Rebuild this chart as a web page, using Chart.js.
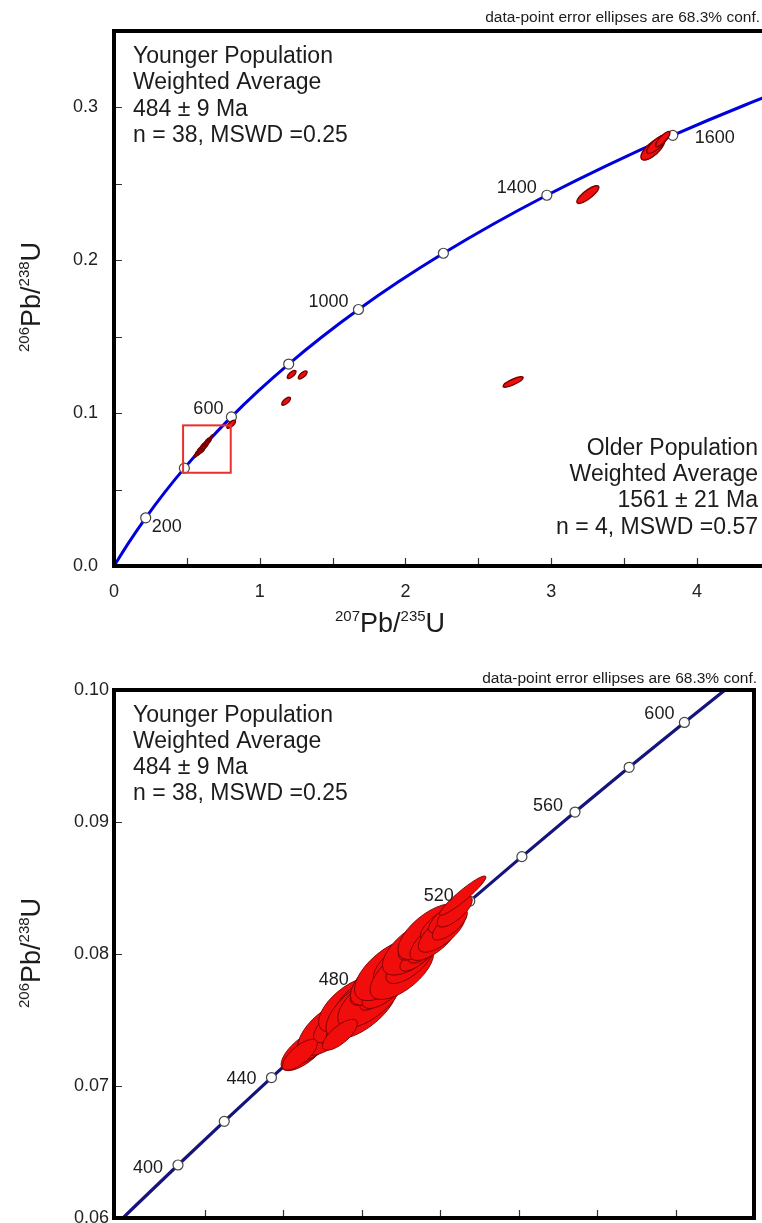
<!DOCTYPE html>
<html>
<head>
<meta charset="utf-8">
<script src="https://cdn.jsdelivr.net/npm/chart.js@4/dist/chart.umd.min.js"></script>
<style>
html, body { margin:0; padding:0; background:#fff; overflow:hidden; width:762px; height:1223px; }
#top { position:absolute; left:0; top:0; }
#bottom { position:absolute; left:0; top:650px; }
</style>
</head>
<body>
<canvas id="top" width="776" height="650"></canvas>
<canvas id="bottom" width="762" height="650"></canvas>
<script>
// concordia curve (age in Ma, 207Pb/235U, 206Pb/238U)
const concAge = [0, 100, 200, 300, 400, 500, 600, 700, 800, 900, 1000, 1100, 1200, 1300, 1400, 1500, 1600, 1700, 1800];
const concX = [0, 0.1035, 0.2177, 0.3437, 0.4828, 0.6363, 0.8056, 0.9925, 1.1987, 1.4263, 1.6774, 1.9545, 2.2603, 2.5977, 2.9701, 3.3810, 3.8344, 4.3348, 4.8869];
const concY = [0, 0.01563, 0.03151, 0.04764, 0.06402, 0.08065, 0.09754, 0.11470, 0.13213, 0.14983, 0.16780, 0.18606, 0.20460, 0.22344, 0.24256, 0.26199, 0.28172, 0.30175, 0.32210];
const topMarkAge = [200, 400, 600, 800, 1000, 1200, 1400, 1600];
const topLabelAge = [200, 600, 1000, 1400, 1600];

// zoomed concordia (lower plot)
const zoomAge = [360, 380, 400, 420, 440, 460, 480, 500, 520, 540, 560, 580, 600, 620, 640];
const zoomX = [0.42553, 0.45389, 0.48281, 0.51230, 0.54239, 0.57307, 0.60436, 0.63628, 0.66883, 0.70203, 0.73588, 0.77041, 0.80563, 0.84155, 0.87818];
const zoomY = [0.057434, 0.060720, 0.064016, 0.067322, 0.070638, 0.073965, 0.077302, 0.080650, 0.084008, 0.087376, 0.090755, 0.094144, 0.097544, 0.100954, 0.104376];
const zoomMarkAge = [400, 420, 440, 460, 480, 500, 520, 540, 560, 580, 600];
const zoomLabelAge = [400, 440, 480, 520, 560, 600];

// younger population: centre, 1s errors, error correlation
const youngX = [0.5637, 0.5682, 0.5720, 0.5764, 0.5796, 0.5847, 0.5873, 0.5892, 0.5924, 0.5955, 0.5975, 0.6000, 0.6025, 0.6051, 0.6076, 0.6102, 0.6127, 0.6153, 0.6178, 0.6204, 0.6229, 0.6255, 0.6280, 0.6306, 0.6331, 0.6357, 0.6382, 0.6408, 0.6433, 0.6459, 0.6484, 0.6510, 0.6535, 0.6561, 0.6592, 0.5860, 0.5605, 0.6643];
const youngY = [0.07274, 0.07289, 0.07350, 0.07388, 0.07441, 0.07487, 0.07563, 0.07464, 0.07616, 0.07540, 0.07669, 0.07593, 0.07715, 0.07654, 0.07768, 0.07692, 0.07821, 0.07745, 0.07881, 0.07821, 0.07942, 0.07866, 0.07995, 0.07934, 0.08048, 0.07988, 0.08109, 0.08048, 0.08169, 0.08109, 0.08223, 0.08169, 0.08275, 0.08223, 0.08321, 0.07388, 0.07237, 0.08442];
const youngSX = [0.0152, 0.0112, 0.0150, 0.0115, 0.0203, 0.0155, 0.0110, 0.0118, 0.0200, 0.0152, 0.0148, 0.0229, 0.0112, 0.0205, 0.0150, 0.0114, 0.0200, 0.0152, 0.0225, 0.0112, 0.0155, 0.0203, 0.0110, 0.0152, 0.0200, 0.0114, 0.0150, 0.0112, 0.0203, 0.0152, 0.0112, 0.0150, 0.0110, 0.0112, 0.0112, 0.0112, 0.0112, 0.0148];
const youngSY = [0.00158, 0.00117, 0.00155, 0.00120, 0.00211, 0.00160, 0.00115, 0.00122, 0.00208, 0.00158, 0.00154, 0.00238, 0.00117, 0.00212, 0.00156, 0.00118, 0.00210, 0.00158, 0.00235, 0.00117, 0.00160, 0.00211, 0.00115, 0.00158, 0.00208, 0.00118, 0.00156, 0.00117, 0.00211, 0.00158, 0.00117, 0.00156, 0.00115, 0.00117, 0.00117, 0.00117, 0.00117, 0.00149];
const youngRho = [0.70, 0.72, 0.69, 0.73, 0.64, 0.70, 0.72, 0.71, 0.63, 0.70, 0.71, 0.64, 0.72, 0.65, 0.69, 0.73, 0.64, 0.70, 0.63, 0.72, 0.70, 0.65, 0.72, 0.69, 0.64, 0.73, 0.70, 0.72, 0.65, 0.70, 0.72, 0.71, 0.73, 0.72, 0.74, 0.72, 0.72, 0.94];

// older population and discordant analyses
const oldX = [3.677, 3.697, 3.725, 3.766, 3.2515, 2.739, 1.219, 1.295, 1.181, 0.804];
const oldY = [0.2708, 0.2728, 0.2760, 0.2793, 0.2430, 0.1204, 0.1253, 0.1250, 0.1078, 0.0928];
const oldSX = [0.0569, 0.0813, 0.0694, 0.0491, 0.0754, 0.0688, 0.0298, 0.0298, 0.0298, 0.0298];
const oldSY = [0.00490, 0.00719, 0.00610, 0.00497, 0.00582, 0.00344, 0.00264, 0.00264, 0.00264, 0.00264];
const oldRho = [0.60, 0.72, 0.78, 0.83, 0.815, 0.826, 0.72, 0.72, 0.72, 0.72];

// axes
const topXTicks = [0, 0.5, 1, 1.5, 2, 2.5, 3, 3.5, 4, 4.5];
const topYTicks = [0, 0.05, 0.1, 0.15, 0.2, 0.25, 0.3];
const zoomXTicks = [0.50, 0.55, 0.60, 0.65, 0.70, 0.75, 0.80];
const zoomYTicks = [0.06, 0.07, 0.08, 0.09, 0.10];
const zoomBoxX = [0.474, 0.801];
const zoomBoxY = [0.061, 0.092];

const FONT = "'Liberation Sans', Arial, sans-serif";
const TXT = '#1c1c1c';

function pts(xs, ys) { return xs.map((v, i) => ({x: v, y: ys[i]})); }
function pick(ages, allAge, xs, ys) {
  return ages.map(a => { const i = allAge.indexOf(a); return {x: xs[i], y: ys[i], age: a}; });
}

function drawEllipse(ctx, sx_, sy_, cx, cy, ex, ey, r, lw) {
  const px = sx_.getPixelForValue(cx), py = sy_.getPixelForValue(cy);
  const kx = sx_.getPixelForValue(cx + ex) - px;
  const ky = sy_.getPixelForValue(cy + ey) - py;
  ctx.beginPath();
  ctx.save();
  ctx.transform(kx, ky * r, 0, ky * Math.sqrt(1 - r * r), px, py);
  ctx.arc(0, 0, 1, 0, Math.PI * 2);
  ctx.restore();
  ctx.fillStyle = '#f20d0d';
  ctx.fill();
  ctx.lineWidth = lw;
  ctx.strokeStyle = '#780000';
  ctx.stroke();
}

function drawRatio(ctx, x, y, angle, parts) {
  ctx.save();
  ctx.translate(x, y);
  ctx.rotate(angle);
  ctx.fillStyle = TXT;
  ctx.textAlign = 'left';
  ctx.textBaseline = 'alphabetic';
  let cx = 0;
  parts.forEach(([t, sup]) => {
    ctx.font = (sup ? '15px ' : '27px ') + FONT;
    ctx.fillText(t, cx, sup ? -11 : 0);
    cx += ctx.measureText(t).width;
  });
  ctx.restore();
}

function makePlugin(cfg) {
  return {
    id: 'concordia',
    afterDatasetsDraw(chart) {
      const {ctx, chartArea: a, scales: {x, y}} = chart;
      ctx.save();
      ctx.beginPath();
      ctx.rect(a.left, a.top, a.right - a.left, a.bottom - a.top);
      ctx.clip();
      cfg.ellipses.forEach(s => {
        for (let i = 0; i < s.x.length; i++) drawEllipse(ctx, x, y, s.x[i], s.y[i], s.sx[i], s.sy[i], s.rho[i], cfg.ellipseLine);
      });
      if (cfg.box) {
        const x0 = x.getPixelForValue(cfg.box.x[0]), x1 = x.getPixelForValue(cfg.box.x[1]);
        const y0 = y.getPixelForValue(cfg.box.y[0]), y1 = y.getPixelForValue(cfg.box.y[1]);
        ctx.strokeStyle = '#e8302c';
        ctx.lineWidth = 2;
        ctx.strokeRect(x0, y1, x1 - x0, y0 - y1);
      }
      ctx.restore();

      // age labels beside the markers
      ctx.save();
      ctx.font = '18px ' + FONT;
      ctx.fillStyle = TXT;
      ctx.textBaseline = 'alphabetic';
      cfg.labels.forEach(l => {
        const off = cfg.labelOffsets[l.age];
        ctx.textAlign = off[2];
        ctx.fillText(String(l.age), x.getPixelForValue(l.x) + off[0], y.getPixelForValue(l.y) + off[1]);
      });
      ctx.restore();
    },
    afterDraw(chart) {
      const {ctx, chartArea: a, scales: {x, y}} = chart;
      ctx.save();
      // inward ticks
      ctx.strokeStyle = '#333';
      ctx.lineWidth = 1.2;
      ctx.beginPath();
      x.ticks.forEach(t => {
        const p = Math.round(x.getPixelForValue(t.value)) + 0.5;
        ctx.moveTo(p, a.bottom);
        ctx.lineTo(p, a.bottom - 8);
      });
      y.ticks.forEach(t => {
        const p = Math.round(y.getPixelForValue(t.value)) + 0.5;
        ctx.moveTo(a.left, p);
        ctx.lineTo(a.left + 8, p);
      });
      ctx.stroke();
      // frame
      ctx.strokeStyle = '#000';
      ctx.lineWidth = 4;
      ctx.strokeRect(a.left, a.top, a.right - a.left, a.bottom - a.top);

      // text blocks
      ctx.fillStyle = TXT;
      ctx.textBaseline = 'alphabetic';
      cfg.texts.forEach(b => {
        ctx.font = b.size + 'px ' + FONT;
        ctx.textAlign = b.align;
        b.lines.forEach((s, i) => ctx.fillText(s, b.x, b.y + i * b.lh));
      });
      cfg.titles.forEach(t => drawRatio(ctx, t.x, t.y, t.angle, t.parts));
      ctx.restore();
    }
  };
}

function tickFont() { return {family: FONT, size: 18}; }
function noPadX(s, h) { s.height = h; s.paddingLeft = 0; s.paddingRight = 0; }
function noPadY(s, w) { s.width = w; s.paddingTop = 0; s.paddingBottom = 0; }

// ---------- upper plot ----------
const topMarks = pick(topMarkAge, concAge, concX, concY);
new Chart(document.getElementById('top'), {
  type: 'scatter',
  data: {
    datasets: [
      {data: topMarks, pointRadius: 5, pointBackgroundColor: '#fff', pointBorderColor: '#444', pointBorderWidth: 1.2},
      {data: pts(concX, concY), showLine: true, pointRadius: 0, borderColor: '#0000dd', borderWidth: 3, cubicInterpolationMode: 'monotone'}
    ]
  },
  options: {
    responsive: false, animation: false, devicePixelRatio: 1,
    layout: {padding: {left: 0, top: 31, right: 6, bottom: 0}},
    plugins: {legend: {display: false}, tooltip: {enabled: false}},
    scales: {
      x: {
        type: 'linear', min: 0, max: 4.5,
        afterBuildTicks: s => { s.ticks = topXTicks.map(v => ({value: v})); },
        afterFit: s => noPadX(s, 650 - 566),
        grid: {display: false, drawTicks: false}, border: {display: false},
        ticks: {autoSkip: false, maxRotation: 0, padding: 15, color: '#222', font: tickFont(),
          callback: v => Number.isInteger(v) ? String(v) : ''}
      },
      y: {
        type: 'linear', min: 0, max: 0.35,
        afterBuildTicks: s => { s.ticks = topYTicks.map(v => ({value: v})); },
        afterFit: s => noPadY(s, 114),
        grid: {display: false, drawTicks: false}, border: {display: false},
        ticks: {autoSkip: false, padding: 16, color: '#222', font: tickFont(),
          callback: v => Math.abs(v * 10 - Math.round(v * 10)) < 1e-6 ? v.toFixed(1) : ''}
      }
    }
  },
  plugins: [makePlugin({
    ellipses: [
      {x: youngX, y: youngY, sx: youngSX, sy: youngSY, rho: youngRho},
      {x: oldX, y: oldY, sx: oldSX, sy: oldSY, rho: oldRho}
    ],
    ellipseLine: 1.4,
    box: {x: zoomBoxX, y: zoomBoxY},
    labels: pick(topLabelAge, concAge, concX, concY),
    labelOffsets: {200: [6, 14, 'left'], 600: [-8, -3, 'right'], 1000: [-10, -3, 'right'], 1400: [-10, -2, 'right'], 1600: [22, 8, 'left']},
    texts: [
      {x: 760, y: 22, size: 15.5, lh: 0, align: 'right', lines: ['data-point error ellipses are 68.3% conf.']},
      {x: 133, y: 63, size: 23, lh: 26.4, align: 'left', lines: ['Younger Population', 'Weighted Average', '484 \u00b1 9 Ma', 'n = 38, MSWD =0.25']},
      {x: 758, y: 455, size: 23, lh: 26.2, align: 'right', lines: ['Older Population', 'Weighted Average', '1561 \u00b1 21 Ma', 'n = 4, MSWD =0.57']}
    ],
    titles: [
      {x: 335, y: 632, angle: 0, parts: [['207', true], ['Pb/', false], ['235', true], ['U', false]]},
      {x: 40, y: 352, angle: -Math.PI / 2, parts: [['206', true], ['Pb/', false], ['238', true], ['U', false]]}
    ]
  })]
});

// ---------- lower (zoomed) plot ----------
const zoomMarks = pick(zoomMarkAge, zoomAge, zoomX, zoomY);
new Chart(document.getElementById('bottom'), {
  type: 'scatter',
  data: {
    datasets: [
      {data: zoomMarks, pointRadius: 5, pointBackgroundColor: '#fff', pointBorderColor: '#444', pointBorderWidth: 1.2},
      {data: pts(zoomX, zoomY), showLine: true, pointRadius: 0, borderColor: '#14147c', borderWidth: 3.2, cubicInterpolationMode: 'monotone'}
    ]
  },
  options: {
    responsive: false, animation: false, devicePixelRatio: 1,
    layout: {padding: {left: 0, top: 40, right: 8, bottom: 0}},
    plugins: {legend: {display: false}, tooltip: {enabled: false}},
    scales: {
      x: {
        type: 'linear', min: 0.442, max: 0.85,
        afterBuildTicks: s => { s.ticks = zoomXTicks.map(v => ({value: v})); },
        afterFit: s => noPadX(s, 650 - 568),
        grid: {display: false, drawTicks: false}, border: {display: false},
        ticks: {autoSkip: false, maxRotation: 0, padding: 15, color: '#222', font: tickFont(),
          callback: v => v.toFixed(2)}
      },
      y: {
        type: 'linear', min: 0.06, max: 0.10,
        afterBuildTicks: s => { s.ticks = zoomYTicks.map(v => ({value: v})); },
        afterFit: s => noPadY(s, 114),
        grid: {display: false, drawTicks: false}, border: {display: false},
        ticks: {autoSkip: false, padding: 5, color: '#222', font: tickFont(),
          callback: v => v.toFixed(2)}
      }
    }
  },
  plugins: [makePlugin({
    ellipses: [{x: youngX, y: youngY, sx: youngSX, sy: youngSY, rho: youngRho}],
    ellipseLine: 0.9,
    box: null,
    labels: pick(zoomLabelAge, zoomAge, zoomX, zoomY),
    labelOffsets: {400: [-15, 8, 'right'], 440: [-15, 6, 'right'], 480: [-20, -5, 'right'], 520: [-16, 0, 'right'], 560: [-12, -1, 'right'], 600: [-10, -3, 'right']},
    texts: [
      {x: 757, y: 33, size: 15.5, lh: 0, align: 'right', lines: ['data-point error ellipses are 68.3% conf.']},
      {x: 133, y: 72, size: 23, lh: 25.9, align: 'left', lines: ['Younger Population', 'Weighted Average', '484 \u00b1 9 Ma', 'n = 38, MSWD =0.25']}
    ],
    titles: [
      {x: 40, y: 358, angle: -Math.PI / 2, parts: [['206', true], ['Pb/', false], ['238', true], ['U', false]]}
    ]
  })]
});
</script>
</body>
</html>
